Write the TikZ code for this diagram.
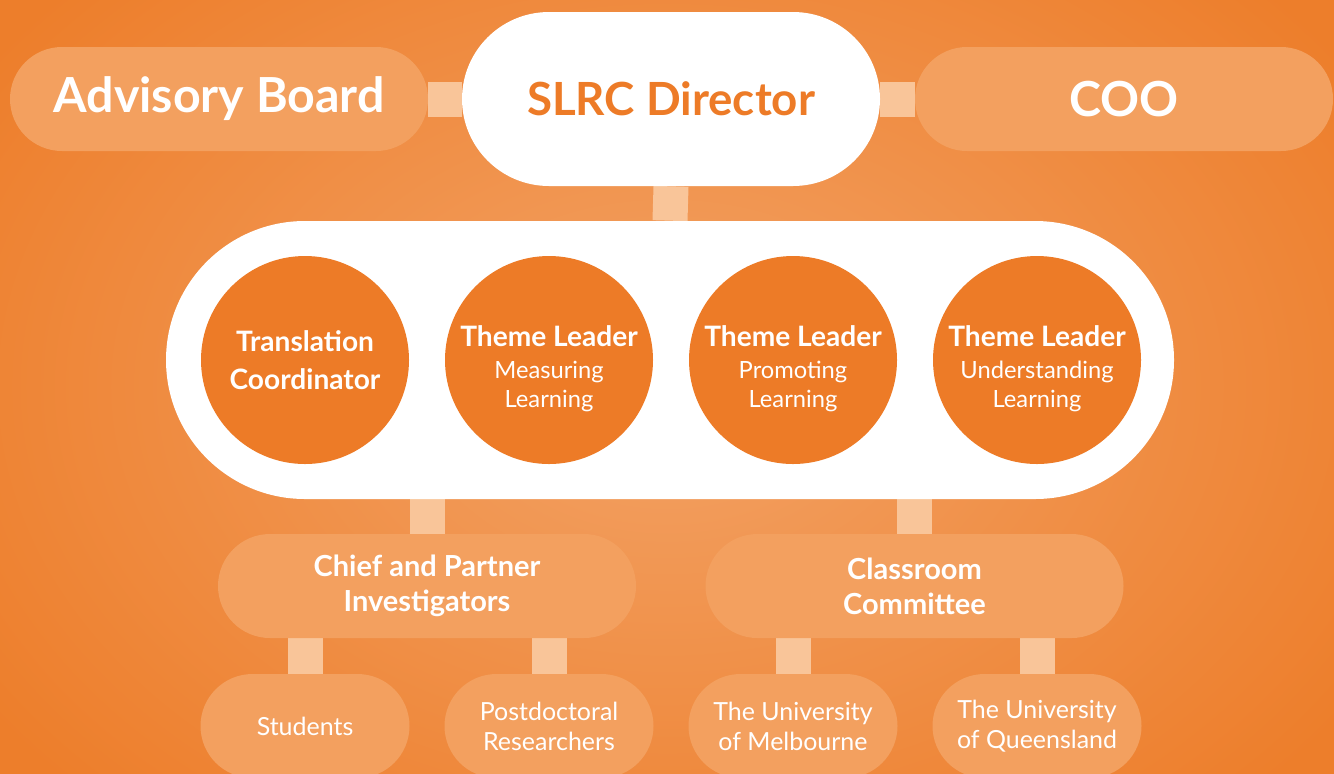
\documentclass[tikz,border=0pt]{standalone}
\usepackage{fontspec}
\setmainfont{Lato}
\definecolor{slrcorange}{HTML}{ED7B27}
\definecolor{bgedge}{HTML}{ED7E2B}
\definecolor{bgmid}{HTML}{F3A265}
\definecolor{pillfill}{HTML}{F3A05F}
\definecolor{linkfill}{HTML}{F9C599}
\pgfdeclarelayer{back}
\pgfdeclarelayer{links}
\pgfsetlayers{back,links,main}
\tikzset{
	pill/.style={rectangle, rounded corners=1.04cm, fill=pillfill, text=white, minimum width=8.36cm, minimum height=2.08cm, inner sep=0pt, align=center},
	smallpill/.style={pill, minimum width=4.18cm, font=\fontsize{14.2}{17}\selectfont},
	toppill/.style={pill, font=\fontsize{27.5}{33}\selectfont\bfseries},
	midpill/.style={pill, font=\fontsize{16.5}{20}\selectfont\bfseries},
	leader/.style={circle, fill=slrcorange, text=white, minimum size=4.16cm, inner sep=0pt, align=center, font=\fontsize{13.5}{17}\selectfont},
	link/.style={line width=0.7cm, draw=linkfill},
}
\newcommand{\lead}[1]{{\fontsize{16}{20}\selectfont\bfseries #1}}

\begin{document}
\begin{tikzpicture}
	%%%%% START %%%%%
	
	\useasboundingbox (0, 0) rectangle (26.68, -15.46);
	\begin{pgfonlayer}{back}
		\shade[inner color=bgmid, outer color=bgedge] (-3, 4) rectangle (29.68, -19.46);
	\end{pgfonlayer}
	
	% top row
	\node[toppill] (adv) at (4.38, -1.98) {Advisory Board};
	\node[toppill, fill=white, text=slrcorange, minimum height=3.48cm, rounded corners=1.74cm, font=\fontsize{26}{31}\selectfont\bfseries] (dir) at (13.42, -1.98) {SLRC Director};
	\node[toppill] (coo) at (22.48, -1.98) {COO};
	
	% leaders
	\node[pill, fill=white, minimum width=20.16cm, minimum height=5.56cm, rounded corners=2.78cm] (team) at (13.4, -7.2) {};
	\node[leader] (trans) at (6.1, -7.2) {\lead{Translation}\\[4.5pt]\lead{Coordinator}};
	\node[leader] (measure) at (10.98, -7.2) {\rule{0pt}{22pt}\lead{Theme Leader}\\[1pt]Measuring\\Learning};
	\node[leader] (promote) at (15.86, -7.2) {\rule{0pt}{22pt}\lead{Theme Leader}\\[1pt]Promoting\\Learning};
	\node[leader] (understand) at (20.74, -7.2) {\rule{0pt}{22pt}\lead{Theme Leader}\\[1pt]Understanding\\Learning};
	
	% committees
	\node[midpill] (chief) at (8.54, -11.72) {Chief and Partner\\Investigators};
	\node[midpill] (class) at (18.29, -11.72) {Classroom\\Committee};
	
	% bottom row
	\node[smallpill] (stud) at (6.1, -14.52) {Students};
	\node[smallpill] (postdoc) at (10.98, -14.52) {Postdoctoral\\Researchers};
	\node[smallpill] (melb) at (15.86, -14.52) {The University\\of Melbourne};
	\node[smallpill] (uq) at (20.74, -14.52) {The University\\of Queensland};
	
	\begin{pgfonlayer}{links}
		\draw[link] (adv.east) -- (dir.west);
		\draw[link] (dir.east) -- (coo.west);
		\draw[link] (dir.south) -- (team.north);
		\draw[link] (chief.north) -- (chief.north |- team.south);
		\draw[link] (class.north) -- (class.north |- team.south);
		\draw[link] (stud.north) -- (stud.north |- chief.south);
		\draw[link] (postdoc.north) -- (postdoc.north |- chief.south);
		\draw[link] (melb.north) -- (melb.north |- class.south);
		\draw[link] (uq.north) -- (uq.north |- class.south);
	\end{pgfonlayer}
	
	%%%%% END %%%%%
\end{tikzpicture}
\end{document}
